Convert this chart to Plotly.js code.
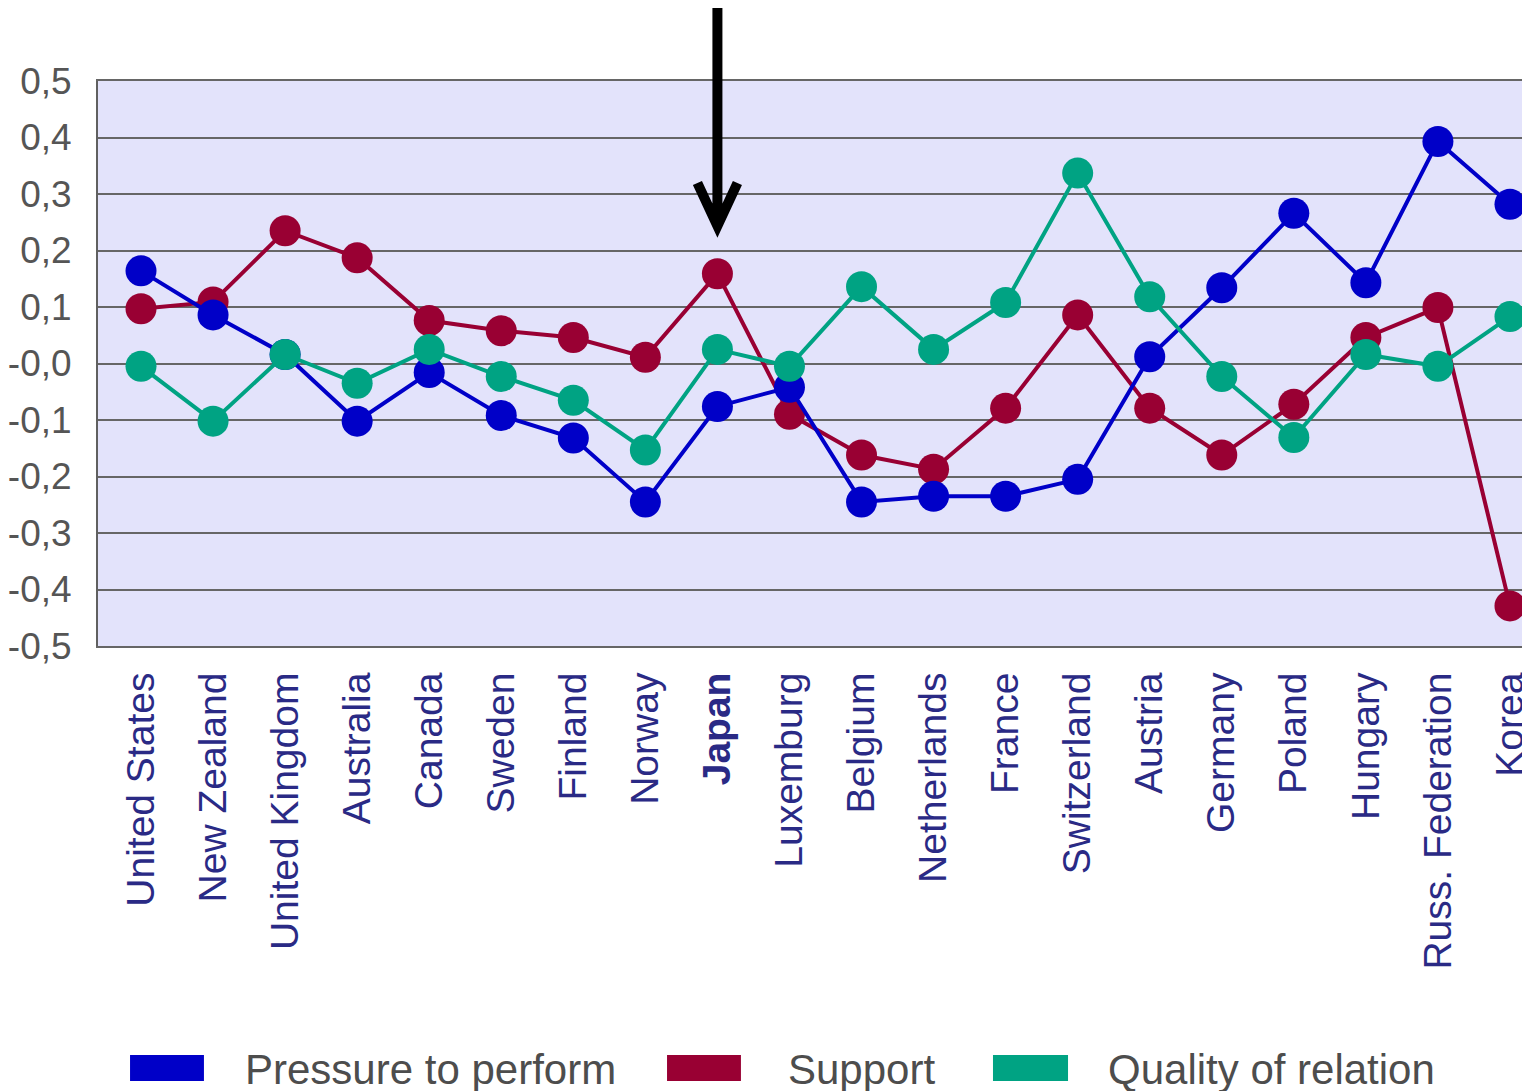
<!DOCTYPE html>
<html>
<head>
<meta charset="utf-8">
<script src="https://cdn.plot.ly/plotly-3.0.1.min.js"></script>
<style>
  html, body { margin: 0; padding: 0; background: #ffffff; }
  #chart { width: 1522px; height: 1091px; }
</style>
</head>
<body>
<div id="chart"></div>
<script>
// Countries along the horizontal axis
const categories = [
  'United States', 'New Zealand', 'United Kingdom', 'Australia', 'Canada',
  'Sweden', 'Finland', 'Norway', 'Japan', 'Luxemburg', 'Belgium',
  'Netherlands', 'France', 'Switzerland', 'Austria', 'Germany', 'Poland',
  'Hungary', 'Russ. Federation', 'Korea'
];

// Index values per country for each dimension
const pressure = [
  0.164, 0.086, 0.016, -0.102, -0.016, -0.092, -0.132, -0.245, -0.076, -0.042,
  -0.245, -0.235, -0.235, -0.205, 0.012, 0.134, 0.266, 0.143, 0.393, 0.282
];
const support = [
  0.097, 0.109, 0.235, 0.187, 0.076, 0.058, 0.046, 0.011, 0.159, -0.090,
  -0.162, -0.187, -0.079, 0.086, -0.079, -0.162, -0.072, 0.046, 0.099, -0.429
];
const quality = [
  -0.005, -0.102, 0.016, -0.035, 0.025, -0.023, -0.065, -0.153, 0.025, -0.005,
  0.136, 0.025, 0.108, 0.337, 0.118, -0.023, -0.131, 0.016, -0.005, 0.083
];

const seriesNames = ['Pressure to perform', 'Support', 'Quality of relation'];
const seriesColors = ['#0000c8', '#990033', '#00a383'];

// Vertical axis ticks (comma decimal separator)
const yTickVals = [-0.5, -0.4, -0.3, -0.2, -0.1, 0, 0.1, 0.2, 0.3, 0.4, 0.5];
const yTickLabels = ['-0,5', '-0,4', '-0,3', '-0,2', '-0,1', '-0,0', '0,1', '0,2', '0,3', '0,4', '0,5'];

// Highlighted country
const highlight = 'Japan';

const font = 'Liberation Sans, Arial, sans-serif';

function series(values, idx) {
  return {
    type: 'scatter',
    mode: 'lines+markers',
    x: categories,
    y: values,
    name: seriesNames[idx],
    line: { color: seriesColors[idx], width: 4 },
    marker: { color: seriesColors[idx], size: 31 },
    cliponaxis: false,
    showlegend: false,
    hoverinfo: 'skip'
  };
}

// Support drawn first, then pressure, then quality on top
const data = [series(support, 1), series(pressure, 0), series(quality, 2)];

// Hand-built legend: colour swatch + label
const legendX = [[0.0225, 0.0744, 0.1018], [0.3996, 0.4515, 0.4832], [0.6285, 0.6812, 0.7079]];
const shapes = [];
const annotations = [];
[0, 1, 2].forEach(function (i) {
  shapes.push({
    type: 'rect', xref: 'paper', yref: 'paper',
    x0: legendX[i][0], x1: legendX[i][1], y0: -0.770, y1: -0.724,
    fillcolor: seriesColors[i], line: { width: 0 }
  });
  annotations.push({
    xref: 'paper', yref: 'paper', x: legendX[i][2], y: -0.749,
    xanchor: 'left', yanchor: 'middle', showarrow: false,
    text: seriesNames[i],
    font: { family: font, size: 42, color: '#4d4d4d' }
  });
});

// Arrow pointing down at the highlighted country (reaches above the plot)
shapes.push({
  type: 'path', xref: 'x', yref: 'paper',
  xsizemode: 'pixel', ysizemode: 'pixel',
  xanchor: categories.indexOf(highlight), yanchor: 0.7398,
  path: 'M0,6 L0,220 M-20,45 L0,2 L20,45',
  line: { color: '#000000', width: 10 }
});

const layout = {
  width: 1522,
  height: 1091,
  margin: { l: 98, r: 0, t: 81, b: 445, pad: 0 },
  paper_bgcolor: '#ffffff',
  plot_bgcolor: '#e3e3fb',
  showlegend: false,
  font: { family: font },
  xaxis: {
    type: 'category',
    range: [-0.597, 19.167],
    tickvals: categories,
    ticktext: categories.map(function (c) { return c === highlight ? '<b>' + c + '</b>' : c; }),
    tickangle: -90,
    tickfont: { family: font, size: 39, color: '#2a2a85' },
    ticks: '',
    ticklabelstandoff: 9,
    showgrid: false,
    zeroline: false,
    showline: true,
    mirror: true,
    linecolor: '#666666',
    linewidth: 2,
    fixedrange: true
  },
  yaxis: {
    range: [-0.5, 0.5],
    tickvals: yTickVals,
    ticktext: yTickLabels,
    tickfont: { family: font, size: 37, color: '#555555' },
    ticks: '',
    ticklabelstandoff: 17,
    showgrid: true,
    gridcolor: '#666666',
    gridwidth: 2,
    zeroline: false,
    showline: true,
    linecolor: '#606060',
    linewidth: 2,
    fixedrange: true
  },
  shapes: shapes,
  annotations: annotations
};

Plotly.newPlot('chart', data, layout, { staticPlot: true, displayModeBar: false });
</script>
</body>
</html>
